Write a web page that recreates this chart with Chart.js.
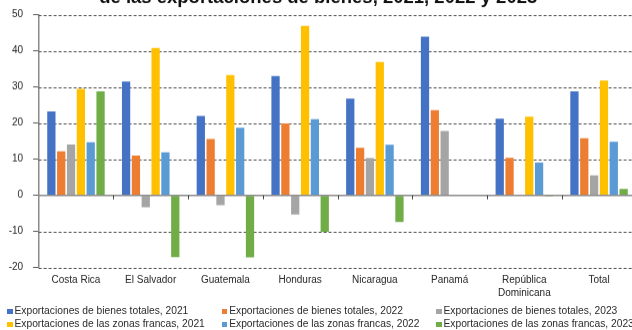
<!DOCTYPE html>
<html>
<head>
<meta charset="utf-8">
<script src="https://cdn.jsdelivr.net/npm/chart.js@4.4.1/dist/chart.umd.min.js"></script>
<style>
  html, body { margin: 0; padding: 0; width: 632px; height: 330px; overflow: hidden; background: #fff; }
  #wrap { position: absolute; left: 0; top: -13px; width: 640px; height: 317.7px; }
  #legend { position: absolute; left: 0; top: 0; width: 632px; height: 330px; pointer-events: none;
    font-family: "Liberation Sans", Arial, sans-serif; font-size: 10.25px; color: #2b2b2b; }
  .li { position: absolute; white-space: nowrap; line-height: 12px; }
  .sw { display: inline-block; width: 5.5px; height: 5.5px; margin-right: 2px; vertical-align: 0px; }
</style>
</head>
<body>
<div id="wrap"><canvas id="c"></canvas></div>
<div id="legend"></div>
<script>
const titleText = "de las exportaciones de bienes, 2021, 2022 y 2023";
const categories = ["Costa Rica", "El Salvador", "Guatemala", "Honduras", "Nicaragua", "Panamá", ["República", "Dominicana"], "Total"];
const seriesNames = [
  "Exportaciones de bienes totales, 2021",
  "Exportaciones de bienes totales, 2022",
  "Exportaciones de bienes totales, 2023",
  "Exportaciones de las zonas francas, 2021",
  "Exportaciones de las zonas francas, 2022",
  "Exportaciones de las zonas francas, 2023"
];
const bienes2021 = [23.2, 31.5, 22.0, 33.0, 26.8, 43.9, 21.2, 28.8];
const bienes2022 = [12.2, 11.0, 15.6, 19.9, 13.2, 23.6, 10.4, 15.8];
const bienes2023 = [14.1, -3.3, -2.7, -5.3, 10.3, 17.8, null, 5.5];
const zf2021 = [29.5, 40.8, 33.3, 46.9, 36.9, null, 21.8, 31.8];
const zf2022 = [14.7, 11.9, 18.7, 21.1, 14.0, null, 9.1, 14.8];
const zf2023 = [28.8, -17.1, -17.2, -10.1, -7.4, null, -0.3, 1.8];
const yTicks = [50, 40, 30, 20, 10, 0, -10, -20];
const colors = ["#4472C4", "#ED7D31", "#A5A5A5", "#FFC000", "#5B9BD5", "#70AD47"];

const seriesValues = [bienes2021, bienes2022, bienes2023, zf2021, zf2022, zf2023];

const axisDecor = {
  id: 'axisDecor',
  beforeDatasetsDraw(chart) {
    const { ctx, chartArea: a, scales: { y } } = chart;
    ctx.save();
    ctx.strokeStyle = '#4d4d4d';
    ctx.lineWidth = 1;
    ctx.setLineDash([3, 2]);
    y.ticks.forEach(t => {
      if (t.value === 0) return;
      const py = Math.round(y.getPixelForValue(t.value)) + 0.5;
      ctx.beginPath(); ctx.moveTo(a.left, py); ctx.lineTo(a.right, py); ctx.stroke();
    });
    ctx.restore();
  },
  afterDatasetsDraw(chart) {
    const { ctx, chartArea: a, scales: { x, y } } = chart;
    const py = y.getPixelForValue(0);
    ctx.save();
    ctx.strokeStyle = '#8a8a8a';
    ctx.lineWidth = 1.5;
    ctx.beginPath(); ctx.moveTo(a.left, py); ctx.lineTo(a.right, py); ctx.stroke();
    ctx.strokeStyle = '#404040';
    ctx.lineWidth = 1;
    for (let i = 0; i < categories.length - 1; i++) {
      const px = Math.round((x.getPixelForValue(i) + x.getPixelForValue(i + 1)) / 2) + 0.5;
      ctx.beginPath(); ctx.moveTo(px, py); ctx.lineTo(px, py + 4); ctx.stroke();
    }
    ctx.restore();
  }
};

const chart = new Chart(document.getElementById('c'), {
  type: 'bar',
  data: {
    labels: categories,
    datasets: seriesNames.map((n, i) => ({
      label: n,
      data: seriesValues[i],
      backgroundColor: colors[i],
      borderWidth: 0,
      categoryPercentage: 0.79,
      barPercentage: 0.84
    }))
  },
  options: {
    responsive: true,
    maintainAspectRatio: false,
    animation: false,
    layout: { padding: { left: 0, right: 3.6, top: 0, bottom: 0 } },
    plugins: {
      legend: { display: false },
      tooltip: { enabled: false },
      title: {
        display: true,
        text: titleText,
        color: '#111',
        font: { family: "'Liberation Sans', Arial, sans-serif", size: 18.5, weight: 'bold', lineHeight: 1.2 },
        padding: { top: 0, bottom: 5.4 }
      }
    },
    scales: {
      x: {
        grid: { display: false, drawTicks: false },
        border: { display: false },
        ticks: {
          color: '#262626',
          padding: 6.3,
          maxRotation: 0,
          autoSkip: false,
          font: { family: "'Liberation Sans', Arial, sans-serif", size: 10, lineHeight: 1.27 }
        }
      },
      y: {
        min: -20,
        max: 50,
        afterBuildTicks(s) { s.ticks = yTicks.map(v => ({ value: v })); },
        afterFit(s) { s.width = 38.6; },
        grid: { drawOnChartArea: false, drawTicks: true, tickLength: 5.5, tickColor: '#595959', tickWidth: 1 },
        border: { display: true, color: '#8a8a8a', width: 1.5 },
        ticks: {
          color: '#262626',
          padding: 10,
          font: { family: "'Liberation Sans', Arial, sans-serif", size: 10 }
        }
      }
    }
  },
  plugins: [axisDecor]
});

// HTML legend built from the chart's datasets
const legendPos = [
  [7, 305], [221.7, 305], [436, 305],
  [7, 318.3], [221.7, 318.3], [436, 318.3]
];
const lg = document.getElementById('legend');
chart.data.datasets.forEach((d, i) => {
  const el = document.createElement('div');
  el.className = 'li';
  el.style.left = legendPos[i][0] + 'px';
  el.style.top = legendPos[i][1] + 'px';
  const sw = document.createElement('span');
  sw.className = 'sw';
  sw.style.background = d.backgroundColor;
  el.appendChild(sw);
  el.appendChild(document.createTextNode(d.label));
  lg.appendChild(el);
});
</script>
</body>
</html>
